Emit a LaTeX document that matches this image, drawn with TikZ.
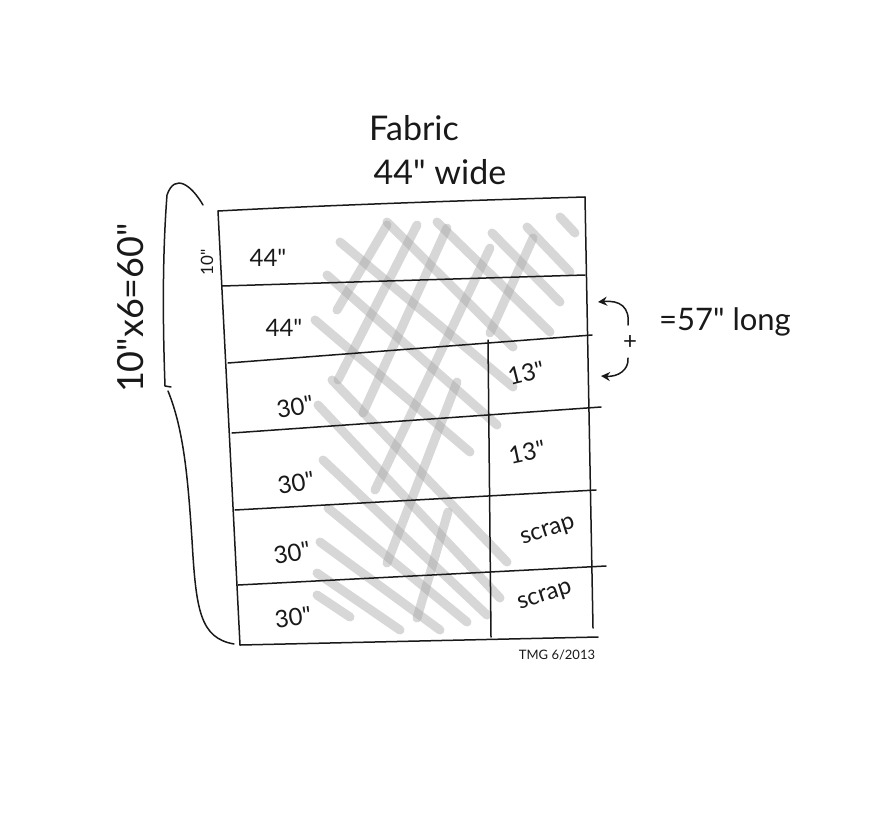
\documentclass[tikz,border=0pt]{standalone}
\usepackage{fontspec}
\setmainfont{Lato}[Ligatures=TeXOff]
\usetikzlibrary{arrows.meta}
\begin{document}
\begin{tikzpicture}[x=1pt,y=-1pt,
  pen/.style={line width=1.5pt,black!90,line cap=round,line join=round},
  hatch/.style={line width=9pt,line cap=round,black!35,opacity=0.45},
  lbl/.style={font=\fontsize{24}{28}\selectfont,text=black!90,inner sep=0pt},
  big/.style={font=\fontsize{34}{40}\selectfont,text=black!90,inner sep=0pt},
  tip/.style={-{Stealth[length=9pt,width=9pt]}}]
\useasboundingbox (0,0) rectangle (869,833);
% hatching
\foreach \a/\b/\c/\d in {560/217/575/233, 527/227/570/272, 492/233/560/302, 437/222/550/332,
  387/222/513/347, 340/242/513/387, 327/275/497/425, 315/320/470/452, 332/380/507/562,
  318/405/500/598, 323/460/487/615, 328/508/467/622, 320/542/440/630, 317/573/400/630,
  317/595/350/617,
  337/310/387/225, 338/380/417/225, 363/413/447/228, 375/490/490/248, 387/563/457/382,
  417/618/448/512, 490/333/533/238}
  \draw[hatch] (\a,\b) -- (\c,\d);
% frame corners
\coordinate (tl) at (218,211); \coordinate (tr) at (585,197);
\coordinate (bl) at (240,645); \coordinate (br) at (598,637);
\coordinate (rb) at (593,628);
\draw[pen] (tl) .. controls (330,205) and (480,200) .. (tr);
\draw[pen] (tl) -- (bl);
\draw[pen] (tr) -- (rb);
\draw[pen] (bl) -- (br);
% horizontal cuts
\coordinate (h1l) at (222,286); \coordinate (h1r) at (585,275);
\coordinate (h2l) at (228,363); \coordinate (h2r) at (592,335);
\coordinate (h3l) at (232,433); \coordinate (h3r) at (601,407);
\coordinate (h4l) at (235,510); \coordinate (h4r) at (596,490);
\coordinate (h5l) at (238,585); \coordinate (h5r) at (606,566);
\draw[pen] (h1l) -- (h1r);
\draw[pen] (h2l) -- (h2r);
\draw[pen] (h3l) -- (h3r);
\draw[pen] (h4l) -- (h4r);
\draw[pen] (h5l) -- (h5r);
% inner vertical
\coordinate (vt) at (488,340); \coordinate (vb) at (491,637);
\draw[pen] (vt) -- (vb);
% brace
\draw[pen] (203,205) .. controls (192,186) and (175,172) .. (167,195)
  .. controls (162,260) and (163,330) .. (165,386) -- (171,387);
\draw[pen] (168,391) .. controls (184,430) and (188,480) .. (192,540)
  .. controls (196,610) and (200,638) .. (234,644);
% titles
\node[big] (fab) at (414,128) {Fabric};
\node[big] (wide) at (440,172) {44" wide};
\node[big,font=\fontsize{36}{42}\selectfont,rotate=90] (tot) at (131,308) {10"x6=60"};
\node[lbl,font=\fontsize{17}{20}\selectfont,rotate=90] (ten) at (207,262) {10"};
% row labels
\node[lbl] (r1) at (268,258) {44"};
\node[lbl] (r2) at (284,328) {44"};
\node[lbl,rotate=10] (r3) at (295,407) {30"};
\node[lbl,rotate=10] (r4) at (296,483) {30"};
\node[lbl,rotate=10] (r5) at (292,553) {30"};
\node[lbl,rotate=8] (r6) at (293,617) {30"};
\node[lbl,rotate=14] (c1) at (526,373) {13"};
\node[lbl,rotate=12] (c2) at (527,452) {13"};
\node[lbl,rotate=18] (c3) at (548,532) {scrap};
\node[lbl,rotate=18] (c4) at (545,597) {scrap};
\node[lbl,font=\fontsize{13}{15}\selectfont] (sig) at (557,655) {TMG 6/2013};
% length note
\node[big,font=\fontsize{31}{36}\selectfont] (len) at (725,322) {=57" long};
\node[lbl] (plus) at (630,342) {+};
\coordinate (a1s) at (628,325); \coordinate (a1e) at (598,302);
\coordinate (a2s) at (628,358); \coordinate (a2e) at (601,376);
\draw[pen,tip] (a1s) .. controls (630,307) and (620,300) .. (a1e);
\draw[pen,tip] (a2s) .. controls (629,370) and (618,377) .. (a2e);
\end{tikzpicture}
\end{document}
